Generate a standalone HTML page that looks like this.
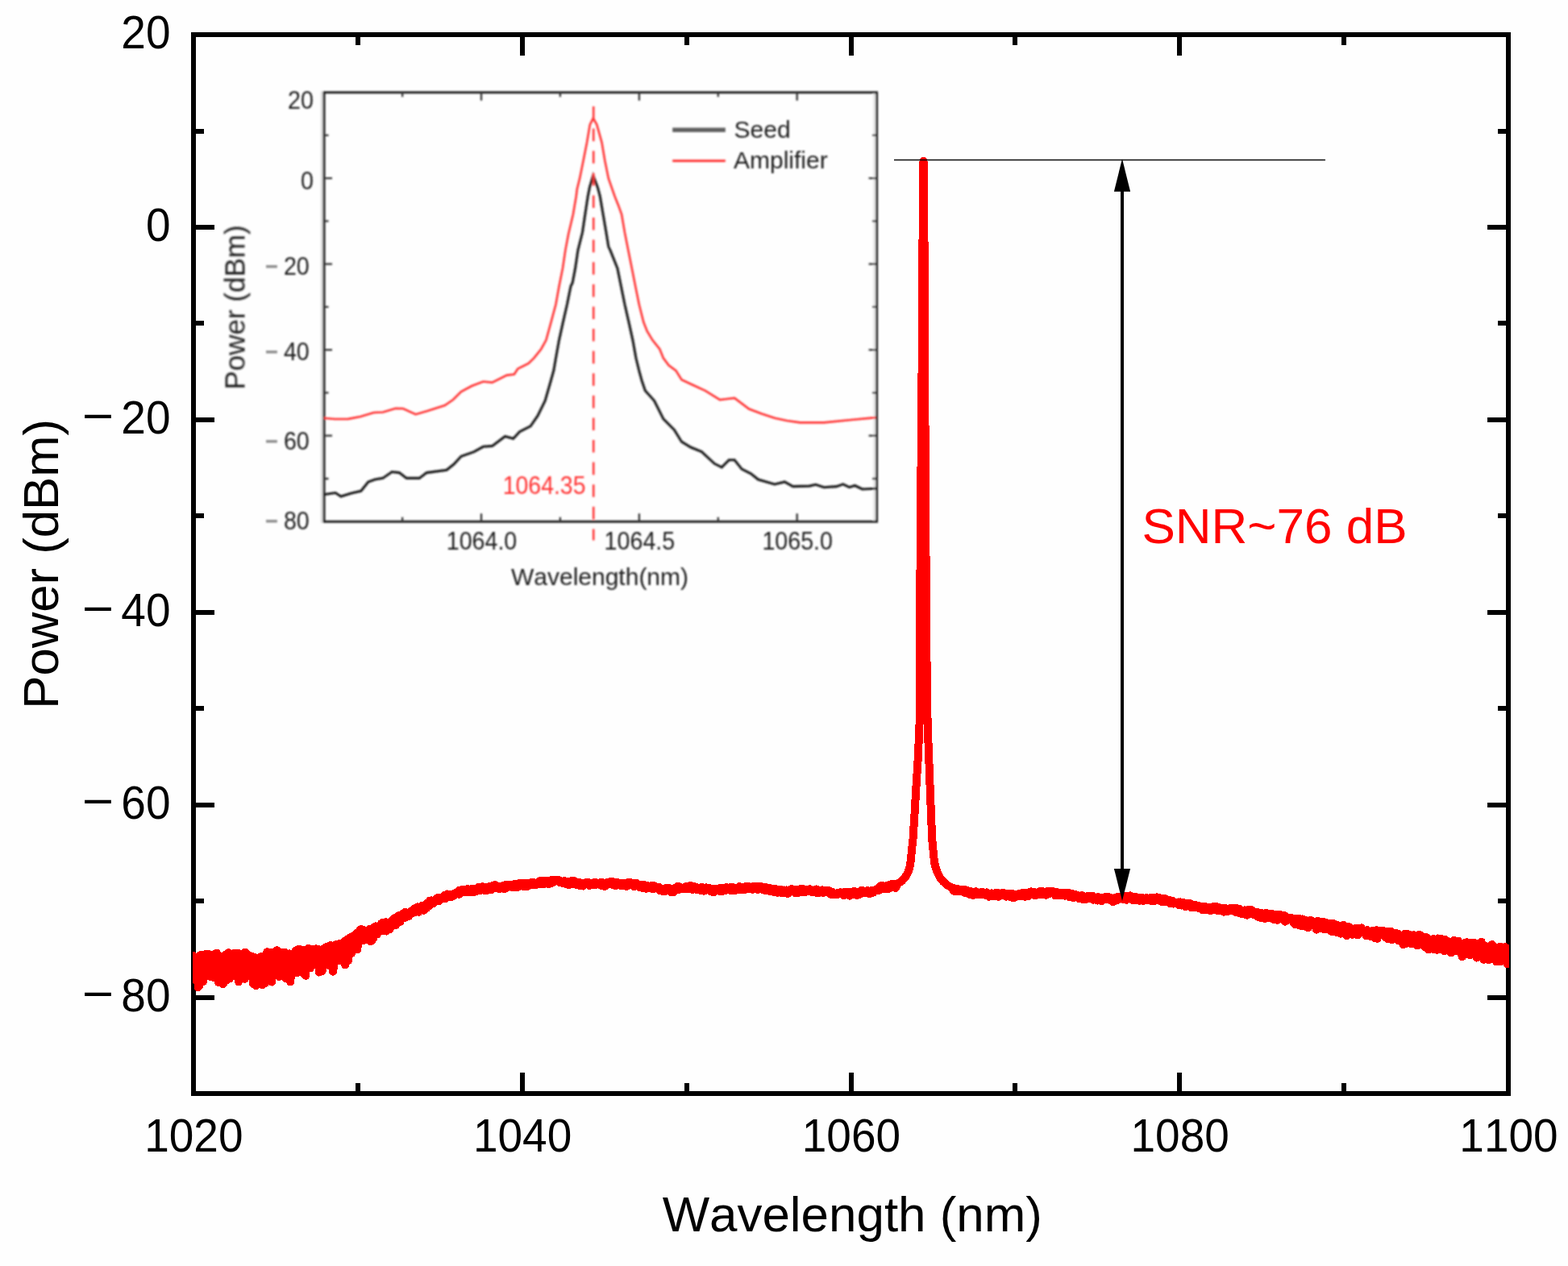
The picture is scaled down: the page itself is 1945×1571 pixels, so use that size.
<!DOCTYPE html>
<html lang="en"><head><meta charset="utf-8"><title>Optical spectrum</title>
<style>html,body{margin:0;padding:0;background:#fefefe;overflow:hidden;}svg{display:block}text{font-family:"Liberation Sans",Arial,Helvetica,sans-serif;font-kerning:none;}</style>
</head><body>
<svg width="1945" height="1571" viewBox="0 0 1945 1571">
<defs>
<clipPath id="plotclip"><rect x="239.1" y="43.0" width="1632.8" height="1314.0"/></clipPath>
<filter id="soft" x="-5%" y="-5%" width="110%" height="110%"><feGaussianBlur stdDeviation="0.8"/></filter>
</defs>
<rect width="1945" height="1571" fill="#fefefe"/>
<g fill="#000" stroke="none" shape-rendering="crispEdges">
<path d="M237 40H1874V46H237Z M237 1354H1874V1360H237Z M237 40H243V1360H237Z M1868 40H1874V1360H1868Z"/>
<path d="M441 1344h6V1357h-6Z M441 43h6V56h-6Z M645 1331h6V1357h-6Z M645 43h6V69h-6Z M849 1344h6V1357h-6Z M849 43h6V56h-6Z M1053 1331h6V1357h-6Z M1053 43h6V69h-6Z M1256 1344h6V1357h-6Z M1256 43h6V56h-6Z M1460 1331h6V1357h-6Z M1460 43h6V69h-6Z M1664 1344h6V1357h-6Z M1664 43h6V56h-6Z M240 160H253v6H240Z M1858 160H1871v6H1858Z M240 279H266v6H240Z M1845 279H1871v6H1845Z M240 398H253v6H240Z M1858 398H1871v6H1858Z M240 518H266v6H240Z M1845 518H1871v6H1845Z M240 637H253v6H240Z M1858 637H1871v6H1858Z M240 757H266v6H240Z M1845 757H1871v6H1845Z M240 876H253v6H240Z M1858 876H1871v6H1858Z M240 996H266v6H240Z M1845 996H1871v6H1845Z M240 1115H253v6H240Z M1858 1115H1871v6H1858Z M240 1235H266v6H240Z M1845 1235H1871v6H1845Z"/>
</g>
<g clip-path="url(#plotclip)"><path d="M236.0 1198.4 236.6 1216.3 237.2 1207.5 237.8 1185.8 238.4 1187.5 239.0 1215.5 239.6 1185.6 240.2 1212.4 240.8 1211.1 241.4 1194.2 242.0 1189.4 242.6 1188.7 243.2 1188.0 243.8 1192.5 244.4 1194.5 245.0 1196.4 245.6 1225.0 246.2 1209.3 246.8 1199.2 247.4 1223.5 248.0 1186.0 248.6 1185.2 249.2 1197.8 249.8 1184.8 250.4 1185.3 251.0 1194.7 251.6 1193.2 252.2 1217.9 252.8 1199.6 253.4 1194.1 254.0 1192.9 254.6 1185.9 255.2 1183.8 255.8 1184.6 256.4 1200.3 257.0 1184.6 257.6 1187.7 258.2 1183.6 258.8 1208.6 259.4 1184.3 260.0 1185.8 260.6 1212.0 261.2 1192.5 261.8 1210.2 262.4 1198.8 263.0 1204.6 263.6 1185.9 264.2 1195.5 264.8 1194.2 265.4 1212.9 266.0 1188.8 266.6 1196.0 267.2 1183.3 267.8 1187.2 268.4 1185.3 269.0 1182.8 269.6 1206.3 270.2 1187.2 270.8 1219.0 271.4 1195.6 272.0 1196.9 272.6 1199.0 273.2 1201.5 273.8 1186.6 274.4 1192.5 275.0 1188.1 275.6 1191.5 276.2 1186.5 276.8 1221.2 277.4 1187.3 278.0 1201.6 278.6 1188.4 279.2 1213.4 279.8 1200.0 280.4 1184.5 281.0 1209.5 281.6 1216.1 282.2 1212.4 282.8 1192.7 283.4 1182.2 284.0 1182.9 284.6 1214.6 285.2 1193.1 285.8 1184.1 286.4 1212.6 287.0 1198.0 287.6 1194.6 288.2 1187.7 288.8 1188.5 289.4 1184.5 290.0 1182.8 290.6 1211.3 291.2 1190.0 291.8 1193.1 292.4 1186.1 293.0 1203.4 293.6 1182.9 294.2 1187.1 294.8 1182.6 295.4 1182.9 296.0 1218.3 296.6 1197.8 297.2 1188.5 297.8 1191.9 298.4 1211.2 299.0 1186.3 299.6 1194.7 300.2 1199.2 300.8 1186.2 301.4 1191.0 302.0 1203.1 302.6 1212.8 303.2 1181.9 303.8 1214.8 304.4 1181.6 305.0 1203.0 305.6 1207.3 306.2 1184.0 306.8 1189.9 307.4 1209.6 308.0 1185.0 308.6 1199.4 309.2 1209.1 309.8 1194.8 310.4 1205.2 311.0 1187.3 311.6 1187.0 312.2 1190.1 312.8 1186.8 313.4 1189.7 314.0 1220.8 314.6 1197.3 315.2 1189.4 315.8 1188.0 316.4 1221.1 317.0 1192.2 317.6 1223.1 318.2 1194.1 318.8 1194.0 319.4 1215.5 320.0 1204.9 320.6 1196.4 321.2 1190.9 321.8 1215.2 322.4 1191.7 323.0 1220.0 323.6 1187.1 324.2 1193.4 324.8 1196.4 325.4 1222.4 326.0 1187.9 326.6 1210.1 327.2 1201.4 327.8 1202.9 328.4 1197.4 329.0 1220.0 329.6 1185.3 330.2 1186.7 330.8 1182.4 331.4 1181.2 332.0 1182.5 332.6 1214.5 333.2 1208.9 333.8 1181.8 334.4 1194.9 335.0 1189.8 335.6 1194.8 336.2 1198.1 336.8 1185.2 337.4 1218.6 338.0 1189.8 338.6 1196.5 339.2 1196.6 339.8 1182.6 340.4 1181.2 341.0 1186.0 341.6 1201.3 342.2 1204.0 342.8 1198.3 343.4 1179.3 344.0 1210.4 344.6 1202.8 345.2 1208.3 345.8 1189.5 346.4 1211.9 347.0 1181.4 347.6 1181.7 348.2 1181.8 348.8 1183.6 349.4 1183.5 350.0 1182.6 350.6 1192.3 351.2 1181.6 351.8 1193.3 352.4 1182.5 353.0 1197.8 353.6 1182.0 354.2 1184.8 354.8 1214.5 355.4 1191.7 356.0 1205.8 356.6 1197.2 357.2 1195.1 357.8 1183.6 358.4 1194.0 359.0 1183.3 359.6 1206.8 360.2 1218.4 360.8 1210.9 361.4 1184.5 362.0 1188.0 362.6 1187.4 363.2 1184.1 363.8 1196.6 364.4 1205.1 365.0 1184.0 365.6 1207.6 366.2 1202.6 366.8 1179.3 367.4 1199.9 368.0 1207.4 368.6 1179.3 369.2 1189.3 369.8 1192.1 370.4 1190.4 371.0 1177.5 371.6 1192.5 372.2 1190.8 372.8 1201.9 373.4 1200.5 374.0 1180.1 374.6 1195.8 375.2 1205.5 375.8 1207.7 376.4 1179.2 377.0 1178.9 377.6 1193.6 378.2 1180.0 378.8 1189.0 379.4 1210.8 380.0 1181.7 380.6 1178.7 381.2 1183.3 381.8 1191.4 382.4 1177.0 383.0 1181.4 383.6 1177.6 384.2 1192.1 384.8 1201.4 385.4 1181.2 386.0 1180.9 386.6 1186.1 387.2 1178.2 387.8 1178.8 388.4 1180.5 389.0 1183.9 389.6 1177.8 390.2 1196.7 390.8 1188.2 391.4 1179.9 392.0 1177.3 392.6 1196.5 393.2 1177.5 393.8 1177.7 394.4 1178.1 395.0 1178.3 395.6 1206.6 396.2 1181.0 396.8 1182.0 397.4 1202.7 398.0 1191.8 398.6 1180.7 399.2 1184.9 399.8 1204.9 400.4 1182.3 401.0 1193.7 401.6 1177.2 402.2 1193.3 402.8 1195.4 403.4 1197.7 404.0 1189.4 404.6 1178.7 405.2 1174.7 405.8 1182.3 406.4 1192.1 407.0 1174.4 407.6 1175.0 408.2 1181.4 408.8 1190.3 409.4 1198.8 410.0 1172.8 410.6 1173.3 411.2 1192.8 411.8 1185.2 412.4 1188.8 413.0 1205.6 413.6 1201.5 414.2 1195.2 414.8 1191.2 415.4 1176.3 416.0 1184.2 416.6 1172.3 417.2 1189.2 417.8 1188.8 418.4 1186.8 419.0 1176.4 419.6 1174.8 420.2 1175.8 420.8 1170.9 421.4 1192.3 422.0 1178.1 422.6 1173.1 423.2 1176.8 423.8 1183.1 424.4 1171.2 425.0 1187.6 425.6 1192.6 426.2 1171.3 426.8 1168.2 427.4 1184.4 428.0 1197.3 428.6 1168.2 429.2 1181.4 429.8 1186.1 430.4 1190.6 431.0 1166.1 431.6 1165.3 432.2 1192.0 432.8 1164.1 433.4 1163.8 434.0 1170.7 434.6 1166.8 435.2 1176.0 435.8 1162.4 436.4 1182.8 437.0 1162.4 437.6 1175.5 438.2 1161.6 438.8 1168.0 439.4 1160.9 440.0 1163.7 440.6 1163.0 441.2 1172.2 441.8 1164.3 442.4 1157.8 443.0 1178.4 443.6 1173.6 444.2 1173.5 444.8 1156.6 445.4 1158.4 446.0 1155.4 446.6 1154.0 447.2 1153.2 447.8 1159.0 448.4 1153.3 449.0 1153.7 449.6 1167.5 450.2 1158.3 450.8 1153.9 451.4 1162.3 452.0 1154.9 452.6 1159.2 453.2 1155.3 453.8 1159.1 454.4 1161.4 455.0 1159.5 455.7 1156.9 456.3 1164.8 456.9 1166.6 457.5 1153.6 458.1 1153.1 458.7 1152.7 459.3 1168.2 459.9 1167.0 460.5 1153.5 461.1 1167.4 461.7 1153.0 462.3 1156.6 462.9 1156.0 463.5 1164.1 464.1 1150.5 464.7 1152.1 465.3 1155.9 465.9 1149.3 466.5 1150.1 467.1 1152.3 467.7 1159.4 468.3 1156.3 468.9 1157.1 469.5 1155.2 470.1 1153.9 470.7 1156.3 471.3 1152.9 471.9 1153.6 472.5 1147.2 473.1 1145.9 473.7 1153.0 474.3 1145.1 474.9 1155.3 475.5 1149.1 476.1 1145.6 476.7 1155.1 477.3 1144.4 477.9 1148.0 478.5 1144.3 479.1 1155.6 479.7 1148.7 480.3 1152.0 480.9 1144.8 481.5 1151.3 482.1 1149.4 482.7 1148.2 483.3 1153.2 483.9 1145.1 484.5 1144.6 485.1 1147.8 485.7 1149.6 486.3 1142.6 486.9 1146.1 487.5 1140.9 488.1 1143.8 488.7 1146.5 489.3 1139.4 489.9 1145.1 490.5 1138.6 491.1 1147.8 491.7 1140.4 492.3 1139.3 492.9 1142.5 493.5 1139.7 494.1 1141.9 494.7 1136.0 495.3 1139.4 495.9 1139.2 496.5 1143.9 497.1 1135.3 497.7 1137.5 498.3 1138.9 498.9 1137.6 499.5 1133.8 500.1 1137.0 500.7 1133.3 501.3 1132.6 501.9 1138.9 502.5 1131.7 503.1 1133.2 503.7 1136.2 504.3 1135.6 504.9 1133.9 505.5 1136.9 506.1 1133.1 506.7 1134.6 507.3 1136.8 507.9 1134.7 508.5 1134.0 509.1 1131.3 509.7 1132.3 510.3 1130.4 510.9 1133.5 511.5 1129.6 512.1 1130.0 512.7 1132.6 513.3 1129.5 513.9 1127.8 514.5 1132.1 515.1 1127.2 515.7 1131.6 516.3 1130.7 516.9 1127.2 517.5 1129.8 518.1 1125.3 518.7 1127.0 519.3 1131.7 519.9 1128.4 520.5 1128.0 521.1 1128.7 521.7 1128.5 522.3 1127.2 522.9 1125.5 523.5 1124.0 524.1 1124.3 524.7 1124.0 525.3 1124.6 525.9 1129.8 526.5 1123.3 527.1 1123.7 527.7 1122.8 528.3 1124.1 528.9 1127.3 529.5 1126.2 530.1 1121.3 530.7 1120.1 531.3 1124.6 531.9 1120.7 532.5 1121.8 533.1 1117.7 533.7 1122.9 534.3 1118.4 534.9 1119.4 535.5 1117.4 536.1 1118.5 536.7 1121.4 537.3 1121.1 537.9 1118.0 538.5 1119.9 539.1 1117.3 539.7 1116.5 540.3 1117.4 540.9 1115.3 541.5 1115.7 542.1 1118.0 542.7 1118.3 543.3 1114.1 543.9 1117.5 544.5 1118.0 545.1 1115.3 545.7 1113.5 546.3 1116.5 546.9 1113.9 547.5 1115.9 548.1 1114.1 548.7 1115.3 549.3 1112.8 549.9 1113.5 550.5 1113.3 551.1 1113.4 551.7 1110.8 552.3 1115.0 552.9 1110.4 553.5 1110.3 554.1 1110.0 554.7 1109.4 555.3 1110.9 555.9 1113.0 556.5 1112.6 557.1 1109.9 557.7 1109.6 558.3 1110.2 558.9 1112.6 559.5 1110.6 560.1 1113.3 560.7 1111.3 561.3 1111.0 561.9 1112.0 562.5 1111.7 563.1 1109.3 563.7 1108.7 564.3 1109.2 564.9 1109.2 565.5 1107.5 566.1 1108.4 566.7 1109.2 567.3 1106.6 567.9 1106.3 568.5 1106.1 569.1 1106.1 569.7 1109.7 570.3 1104.6 570.9 1104.7 571.5 1104.5 572.1 1105.8 572.7 1104.1 573.3 1105.6 573.9 1104.2 574.5 1104.4 575.1 1107.0 575.7 1103.7 576.3 1105.5 576.9 1104.3 577.5 1104.4 578.1 1106.6 578.7 1103.4 579.3 1107.5 579.9 1107.4 580.5 1106.0 581.1 1103.3 581.7 1105.8 582.3 1105.3 582.9 1106.3 583.5 1103.5 584.1 1107.5 584.7 1107.1 585.3 1103.2 585.9 1103.8 586.5 1102.8 587.1 1106.3 587.7 1106.7 588.3 1107.0 588.9 1104.3 589.5 1104.4 590.1 1104.3 590.7 1103.4 591.3 1105.7 591.9 1103.2 592.5 1101.6 593.1 1102.4 593.7 1100.7 594.3 1103.8 594.9 1103.8 595.5 1102.3 596.1 1104.8 596.7 1104.0 597.3 1101.5 597.9 1100.4 598.5 1100.4 599.1 1100.5 599.7 1101.0 600.3 1101.8 600.9 1105.1 601.5 1101.5 602.1 1105.3 602.7 1104.0 603.3 1105.1 603.9 1102.4 604.5 1100.8 605.1 1104.1 605.7 1100.8 606.3 1100.2 606.9 1103.4 607.5 1102.5 608.1 1100.0 608.7 1100.1 609.3 1104.0 609.9 1099.9 610.5 1102.1 611.1 1099.1 611.7 1102.4 612.3 1098.6 612.9 1100.2 613.5 1098.2 614.1 1100.3 614.7 1102.3 615.3 1098.5 615.9 1099.2 616.5 1102.1 617.1 1101.2 617.7 1099.8 618.3 1101.6 618.9 1100.7 619.5 1103.3 620.1 1099.9 620.7 1102.5 621.3 1101.7 621.9 1102.4 622.5 1100.2 623.1 1102.3 623.7 1102.0 624.3 1100.0 624.9 1098.6 625.5 1103.3 626.1 1101.2 626.7 1098.2 627.3 1100.8 627.9 1098.2 628.5 1099.1 629.1 1101.8 629.7 1099.2 630.3 1098.6 630.9 1098.9 631.5 1098.2 632.1 1098.6 632.7 1098.6 633.3 1098.1 633.9 1097.6 634.5 1099.0 635.1 1097.6 635.7 1100.3 636.3 1101.5 636.9 1097.5 637.5 1099.0 638.1 1098.6 638.7 1096.8 639.3 1096.9 639.9 1101.1 640.5 1098.4 641.1 1100.4 641.7 1096.7 642.3 1098.9 642.9 1100.6 643.5 1100.4 644.1 1096.1 644.7 1098.0 645.3 1097.0 645.9 1099.2 646.5 1095.7 647.1 1096.2 647.7 1099.2 648.3 1097.1 648.9 1097.0 649.5 1100.4 650.1 1096.5 650.7 1095.8 651.3 1097.1 651.9 1096.2 652.5 1096.0 653.1 1098.0 653.7 1100.4 654.3 1097.9 654.9 1098.2 655.5 1096.5 656.1 1097.6 656.7 1098.5 657.3 1097.3 657.9 1098.5 658.5 1096.8 659.1 1095.0 659.7 1096.7 660.3 1096.2 660.9 1094.9 661.5 1097.1 662.1 1098.5 662.7 1095.3 663.3 1097.2 663.9 1098.4 664.5 1096.6 665.1 1096.0 665.7 1096.3 666.3 1096.9 666.9 1097.4 667.5 1096.3 668.1 1094.0 668.7 1097.1 669.3 1097.4 669.9 1093.1 670.5 1093.4 671.1 1093.1 671.7 1096.6 672.3 1097.1 672.9 1093.1 673.5 1094.0 674.1 1093.4 674.7 1094.4 675.3 1096.9 675.9 1092.6 676.5 1092.7 677.1 1093.9 677.7 1094.0 678.3 1095.3 678.9 1093.8 679.5 1092.9 680.1 1093.8 680.7 1097.3 681.3 1095.8 681.9 1092.8 682.5 1095.7 683.1 1092.9 683.7 1095.1 684.3 1091.8 684.9 1095.6 685.5 1092.3 686.1 1093.6 686.7 1094.8 687.3 1094.1 687.9 1092.7 688.5 1092.6 689.1 1092.8 689.7 1092.0 690.3 1092.2 690.9 1091.8 691.5 1093.0 692.1 1092.7 692.7 1094.0 693.3 1092.9 693.9 1092.4 694.5 1093.4 695.1 1095.5 695.7 1093.2 696.3 1093.7 696.9 1095.4 697.5 1093.6 698.1 1096.1 698.7 1096.4 699.3 1093.4 699.9 1095.6 700.5 1093.5 701.1 1093.3 701.7 1094.4 702.3 1095.3 702.9 1097.4 703.5 1093.8 704.1 1096.4 704.7 1095.4 705.3 1094.2 705.9 1098.2 706.5 1096.5 707.1 1094.0 707.7 1097.4 708.3 1093.5 708.9 1093.3 709.5 1093.8 710.1 1096.9 710.7 1092.9 711.3 1096.8 711.9 1095.1 712.5 1093.1 713.1 1095.0 713.7 1094.6 714.3 1095.2 714.9 1096.4 715.5 1096.3 716.1 1098.4 716.7 1094.5 717.3 1097.6 717.9 1095.7 718.5 1097.7 719.1 1098.5 719.7 1099.2 720.3 1095.5 720.9 1096.4 721.5 1099.3 722.1 1099.4 722.7 1096.5 723.3 1099.6 723.9 1096.6 724.5 1096.4 725.1 1098.1 725.7 1096.4 726.3 1096.1 726.9 1095.6 727.5 1095.6 728.1 1094.6 728.7 1094.6 729.3 1097.7 729.9 1097.0 730.5 1097.9 731.1 1098.9 731.7 1096.4 732.3 1096.4 732.9 1096.4 733.5 1096.2 734.1 1098.1 734.7 1095.9 735.3 1095.6 735.9 1097.0 736.5 1095.2 737.1 1095.1 737.7 1097.7 738.3 1098.2 738.9 1096.0 739.5 1097.5 740.1 1095.3 740.7 1096.4 741.3 1097.2 741.9 1095.9 742.5 1096.2 743.1 1097.4 743.7 1097.3 744.3 1095.4 744.9 1097.7 745.5 1095.1 746.1 1099.2 746.7 1095.3 747.3 1095.5 747.9 1095.4 748.5 1099.6 749.1 1096.0 749.7 1097.5 750.3 1099.9 750.9 1099.6 751.5 1095.5 752.1 1097.1 752.7 1097.3 753.3 1097.7 753.9 1095.8 754.5 1095.7 755.1 1094.7 755.7 1094.6 756.3 1096.2 756.9 1094.3 757.5 1094.4 758.1 1094.7 758.7 1094.0 759.3 1094.0 759.9 1098.1 760.5 1095.6 761.1 1095.0 761.7 1097.4 762.3 1094.8 762.9 1095.4 763.5 1099.0 764.1 1098.6 764.7 1097.1 765.3 1095.1 765.9 1095.9 766.5 1095.3 767.1 1095.8 767.7 1095.5 768.3 1095.7 768.9 1097.7 769.5 1095.6 770.1 1095.7 770.7 1099.2 771.3 1096.3 771.9 1096.4 772.5 1095.7 773.1 1098.9 773.7 1098.4 774.3 1097.9 774.9 1098.4 775.5 1096.5 776.1 1096.8 776.7 1098.1 777.3 1100.0 777.9 1098.8 778.5 1097.6 779.1 1096.7 779.7 1094.8 780.3 1098.4 780.9 1094.6 781.5 1094.7 782.1 1097.1 782.7 1098.0 783.3 1098.2 783.9 1096.8 784.5 1096.1 785.1 1096.0 785.7 1099.5 786.3 1100.1 786.9 1096.2 787.5 1099.0 788.1 1096.5 788.7 1096.2 789.3 1097.3 789.9 1096.2 790.5 1097.9 791.1 1097.4 791.7 1099.8 792.3 1098.8 792.9 1100.8 793.5 1101.0 794.1 1098.1 794.7 1098.1 795.3 1101.6 795.9 1099.2 796.5 1097.8 797.1 1097.8 797.7 1102.3 798.3 1099.9 798.9 1098.0 799.5 1099.7 800.1 1099.8 800.7 1099.7 801.3 1102.6 801.9 1102.7 802.5 1098.9 803.1 1099.0 803.7 1099.9 804.3 1102.2 804.9 1101.0 805.5 1101.7 806.1 1100.9 806.7 1099.4 807.3 1102.3 807.9 1099.0 808.5 1101.6 809.1 1099.4 809.7 1100.5 810.3 1103.4 810.9 1100.9 811.5 1099.4 812.1 1100.8 812.7 1102.2 813.3 1100.1 813.9 1100.9 814.5 1100.5 815.1 1102.4 815.7 1101.8 816.3 1102.4 816.9 1101.6 817.5 1103.3 818.1 1101.3 818.7 1105.0 819.3 1105.5 819.9 1103.1 820.5 1103.2 821.1 1105.6 821.7 1102.9 822.3 1105.6 822.9 1103.0 823.5 1105.0 824.1 1103.1 824.7 1104.2 825.3 1106.0 825.9 1102.1 826.5 1105.3 827.1 1103.9 827.7 1103.1 828.3 1102.9 828.9 1102.0 829.5 1102.4 830.1 1104.1 830.7 1102.2 831.3 1104.7 831.9 1106.8 832.5 1107.1 833.1 1106.8 833.7 1106.4 834.3 1103.5 834.9 1107.3 835.5 1103.2 836.1 1106.2 836.7 1106.0 837.3 1104.1 837.9 1103.1 838.5 1101.3 839.1 1102.2 839.7 1100.8 840.3 1100.0 840.9 1099.9 841.5 1102.9 842.1 1103.8 842.7 1100.3 843.3 1100.4 843.9 1101.4 844.5 1101.3 845.1 1101.7 845.7 1103.4 846.3 1102.7 846.9 1102.6 847.5 1101.6 848.1 1103.3 848.7 1101.3 849.3 1101.4 849.9 1101.3 850.5 1103.4 851.1 1099.8 851.7 1101.8 852.3 1099.8 852.9 1102.8 853.5 1100.1 854.1 1100.6 854.7 1102.6 855.3 1101.4 855.9 1099.0 856.5 1099.2 857.1 1103.5 857.7 1099.2 858.3 1100.1 858.9 1103.9 859.5 1099.9 860.1 1100.4 860.7 1100.7 861.3 1100.5 861.9 1101.9 862.5 1102.7 863.1 1101.5 863.7 1101.0 864.3 1104.3 864.9 1104.4 865.5 1103.2 866.1 1101.6 866.7 1103.2 867.3 1103.6 867.9 1102.5 868.5 1104.7 869.1 1102.0 869.7 1102.4 870.3 1100.9 870.9 1102.6 871.5 1103.8 872.1 1103.7 872.7 1101.6 873.3 1105.7 873.9 1104.1 874.5 1102.6 875.1 1102.5 875.7 1104.3 876.3 1101.4 876.9 1103.2 877.5 1103.6 878.1 1102.5 878.7 1104.5 879.3 1102.4 879.9 1102.6 880.5 1102.2 881.1 1105.8 881.7 1103.0 882.3 1105.1 882.9 1103.9 883.5 1107.0 884.1 1107.2 884.7 1103.0 885.3 1107.4 885.9 1105.0 886.5 1102.8 887.1 1104.1 887.7 1102.5 888.3 1104.2 888.9 1102.5 889.5 1103.0 890.1 1102.6 890.7 1103.7 891.3 1104.9 891.9 1105.6 892.5 1102.4 893.1 1103.6 893.7 1101.8 894.3 1102.9 895.0 1106.2 895.6 1102.1 896.2 1105.6 896.8 1104.2 897.4 1102.4 898.0 1104.7 898.6 1102.2 899.2 1105.2 899.8 1101.4 900.4 1101.4 901.0 1104.1 901.6 1102.5 902.2 1101.4 902.8 1102.8 903.4 1102.0 904.0 1103.1 904.6 1104.2 905.2 1104.8 905.8 1101.1 906.4 1103.0 907.0 1105.2 907.6 1102.1 908.2 1103.8 908.8 1101.0 909.4 1104.7 910.0 1103.2 910.6 1105.2 911.2 1104.6 911.8 1105.2 912.4 1101.6 913.0 1104.3 913.6 1101.8 914.2 1102.0 914.8 1102.0 915.4 1103.0 916.0 1102.9 916.6 1104.4 917.2 1100.1 917.8 1100.4 918.4 1101.1 919.0 1103.7 919.6 1102.5 920.2 1102.5 920.8 1104.0 921.4 1103.4 922.0 1101.7 922.6 1100.9 923.2 1101.9 923.8 1104.0 924.4 1102.2 925.0 1100.0 925.6 1101.1 926.2 1100.7 926.8 1101.5 927.4 1101.4 928.0 1103.5 928.6 1100.1 929.2 1100.4 929.8 1101.5 930.4 1103.2 931.0 1102.2 931.6 1101.0 932.2 1103.0 932.8 1101.2 933.4 1103.9 934.0 1100.2 934.6 1099.8 935.2 1103.0 935.8 1100.4 936.4 1103.3 937.0 1102.0 937.6 1101.5 938.2 1100.0 938.8 1103.1 939.4 1099.9 940.0 1104.1 940.6 1103.4 941.2 1100.3 941.8 1099.8 942.4 1103.4 943.0 1101.1 943.6 1099.8 944.2 1101.3 944.8 1100.4 945.4 1101.2 946.0 1102.5 946.6 1104.2 947.2 1103.6 947.8 1100.7 948.4 1102.0 949.0 1102.3 949.6 1105.4 950.2 1101.2 950.8 1102.9 951.4 1105.3 952.0 1102.6 952.6 1102.1 953.2 1103.5 953.8 1102.5 954.4 1105.9 955.0 1102.2 955.6 1102.8 956.2 1102.7 956.8 1105.4 957.4 1103.4 958.0 1106.5 958.6 1106.4 959.2 1106.7 959.8 1103.2 960.4 1102.6 961.0 1103.8 961.6 1107.2 962.2 1106.0 962.8 1103.2 963.4 1105.9 964.0 1107.4 964.6 1107.8 965.2 1106.3 965.8 1107.3 966.4 1107.2 967.0 1104.7 967.6 1103.9 968.2 1106.6 968.8 1104.1 969.4 1105.0 970.0 1108.5 970.6 1105.9 971.2 1105.7 971.8 1108.1 972.4 1104.4 973.0 1108.1 973.6 1107.5 974.2 1104.7 974.8 1104.8 975.4 1104.5 976.0 1108.7 976.6 1105.4 977.2 1105.1 977.8 1108.9 978.4 1107.0 979.0 1107.0 979.6 1107.0 980.2 1103.8 980.8 1103.5 981.4 1104.8 982.0 1103.2 982.6 1104.7 983.2 1106.1 983.8 1105.8 984.4 1105.8 985.0 1103.8 985.6 1104.5 986.2 1108.1 986.8 1104.6 987.4 1106.3 988.0 1104.5 988.6 1108.5 989.2 1104.4 989.8 1105.1 990.4 1105.4 991.0 1106.1 991.6 1107.3 992.2 1105.8 992.8 1103.8 993.4 1102.9 994.0 1105.6 994.6 1107.3 995.2 1102.9 995.8 1105.9 996.4 1103.1 997.0 1104.1 997.6 1104.5 998.2 1105.0 998.8 1107.4 999.4 1105.6 1000.0 1104.1 1000.6 1105.7 1001.2 1104.3 1001.8 1103.9 1002.4 1103.6 1003.0 1104.2 1003.6 1103.3 1004.2 1103.3 1004.8 1103.2 1005.4 1104.5 1006.0 1104.0 1006.6 1107.0 1007.2 1107.2 1007.8 1104.5 1008.4 1105.8 1009.0 1107.5 1009.6 1104.4 1010.2 1105.2 1010.8 1104.5 1011.4 1105.5 1012.0 1107.5 1012.6 1103.5 1013.2 1107.9 1013.8 1106.3 1014.4 1107.4 1015.0 1106.8 1015.6 1108.4 1016.2 1105.6 1016.8 1107.5 1017.4 1105.2 1018.0 1106.1 1018.6 1106.9 1019.2 1104.7 1019.8 1104.4 1020.4 1107.7 1021.0 1108.0 1021.6 1107.3 1022.2 1105.7 1022.8 1107.3 1023.4 1104.8 1024.0 1107.1 1024.6 1106.4 1025.2 1106.5 1025.8 1105.6 1026.4 1104.8 1027.0 1107.3 1027.6 1106.1 1028.2 1107.9 1028.8 1106.1 1029.4 1105.4 1030.0 1107.4 1030.6 1108.1 1031.2 1110.2 1031.8 1110.2 1032.4 1106.6 1033.0 1110.1 1033.6 1107.8 1034.2 1110.2 1034.8 1108.7 1035.4 1108.5 1036.0 1109.2 1036.6 1109.3 1037.2 1110.1 1037.8 1109.7 1038.4 1109.8 1039.0 1108.2 1039.6 1109.7 1040.2 1108.0 1040.8 1109.3 1041.4 1108.6 1042.0 1109.2 1042.6 1107.3 1043.2 1109.1 1043.8 1108.0 1044.4 1108.7 1045.0 1107.6 1045.6 1109.9 1046.2 1111.2 1046.8 1107.9 1047.4 1106.8 1048.0 1108.8 1048.6 1106.6 1049.2 1110.4 1049.8 1106.7 1050.4 1107.7 1051.0 1108.5 1051.6 1107.2 1052.2 1108.0 1052.8 1107.8 1053.4 1109.9 1054.0 1111.7 1054.6 1107.9 1055.2 1110.1 1055.8 1106.7 1056.4 1108.3 1057.0 1107.3 1057.6 1106.4 1058.2 1109.1 1058.8 1108.5 1059.4 1105.7 1060.0 1106.3 1060.6 1109.2 1061.2 1110.5 1061.8 1108.3 1062.4 1110.0 1063.0 1110.9 1063.6 1109.3 1064.2 1108.8 1064.8 1106.7 1065.4 1107.1 1066.0 1108.1 1066.6 1109.7 1067.2 1106.0 1067.8 1106.1 1068.4 1104.8 1069.0 1107.5 1069.6 1106.1 1070.2 1108.1 1070.8 1105.2 1071.4 1107.3 1072.0 1107.5 1072.6 1106.5 1073.2 1105.5 1073.8 1106.4 1074.4 1108.3 1075.0 1105.5 1075.6 1105.1 1076.2 1106.5 1076.8 1105.4 1077.4 1108.4 1078.0 1108.5 1078.6 1109.4 1079.2 1108.8 1079.8 1107.6 1080.4 1105.3 1081.0 1108.4 1081.6 1107.6 1082.2 1107.5 1082.8 1107.0 1083.4 1107.7 1084.0 1104.6 1084.6 1106.4 1085.2 1105.3 1085.8 1104.3 1086.4 1104.1 1087.0 1103.3 1087.6 1104.4 1088.2 1103.4 1088.8 1103.2 1089.4 1105.1 1090.0 1103.4 1090.6 1102.8 1091.2 1104.3 1091.8 1099.6 1092.4 1100.6 1093.0 1098.8 1093.6 1099.8 1094.2 1103.3 1094.8 1099.0 1095.4 1102.3 1096.0 1103.2 1096.6 1101.2 1097.2 1103.0 1097.8 1100.9 1098.4 1100.3 1099.0 1100.8 1099.6 1099.2 1100.2 1099.3 1100.8 1099.1 1101.4 1103.0 1102.0 1098.9 1102.6 1098.3 1103.2 1102.1 1103.8 1097.6 1104.4 1101.9 1105.0 1100.8 1105.6 1099.3 1106.2 1097.9 1106.8 1096.8 1107.4 1096.5 1108.0 1096.5 1108.6 1097.5 1109.2 1097.9 1109.8 1101.2 1110.4 1098.9 1111.0 1101.9 1111.6 1100.1 1112.2 1097.2 1112.8 1098.7 1113.4 1096.8 1114.0 1096.2 1119.0 1093.0 1123.0 1088.5 1126.0 1083.0 1128.0 1078.0 1129.5 1070.0 1131.0 1055.0 1132.6 1040.0 1134.5 1010.0 1136.3 979.0 1138.8 940.0 1140.6 897.0 1140.9 830.0 1141.1 760.0 1141.8 670.0 1142.5 580.0 1143.3 490.0 1144.0 400.0 1144.5 300.0 1144.9 205.0 1145.5 199.9 1146.1 205.0 1146.5 300.0 1146.8 400.0 1147.3 490.0 1147.8 580.0 1148.4 670.0 1148.9 760.0 1149.6 830.0 1150.6 897.0 1152.2 940.0 1153.7 979.0 1155.0 1010.0 1156.1 1040.0 1157.5 1055.0 1159.0 1070.0 1161.0 1078.0 1163.0 1083.0 1166.0 1089.0 1170.0 1094.0 1176.0 1099.0 1180.0 1100.9 1180.6 1102.4 1181.2 1101.5 1181.8 1103.1 1182.4 1102.0 1183.0 1105.6 1183.6 1102.7 1184.2 1104.7 1184.8 1104.7 1185.4 1103.4 1186.0 1103.0 1186.6 1106.2 1187.2 1102.7 1187.8 1103.4 1188.4 1103.8 1189.0 1105.1 1189.6 1104.4 1190.2 1103.8 1190.8 1105.5 1191.4 1106.3 1192.0 1106.2 1192.6 1105.1 1193.2 1104.4 1193.8 1103.7 1194.4 1105.3 1195.0 1105.9 1195.6 1105.1 1196.2 1107.8 1196.8 1104.1 1197.4 1106.9 1198.0 1106.3 1198.6 1107.4 1199.2 1107.8 1199.8 1104.9 1200.4 1108.6 1201.0 1106.3 1201.6 1107.9 1202.2 1109.8 1202.8 1107.8 1203.4 1107.9 1204.0 1106.1 1204.6 1108.2 1205.2 1106.9 1205.8 1107.6 1206.4 1107.8 1207.0 1111.1 1207.6 1109.1 1208.2 1109.4 1208.8 1106.7 1209.4 1106.9 1210.0 1109.6 1210.6 1106.2 1211.2 1110.3 1211.8 1107.7 1212.4 1107.8 1213.0 1108.7 1213.6 1108.5 1214.2 1108.7 1214.8 1108.4 1215.4 1109.8 1216.0 1107.7 1216.6 1107.4 1217.2 1108.5 1217.8 1107.4 1218.4 1108.7 1219.0 1108.9 1219.6 1110.4 1220.2 1107.3 1220.8 1108.2 1221.4 1110.2 1222.0 1108.0 1222.6 1110.7 1223.2 1110.0 1223.8 1107.4 1224.4 1108.6 1225.0 1110.7 1225.6 1109.5 1226.2 1110.5 1226.8 1112.8 1227.4 1110.9 1228.0 1110.4 1228.6 1112.3 1229.2 1109.9 1229.8 1108.4 1230.4 1108.9 1231.0 1110.3 1231.6 1112.4 1232.2 1110.1 1232.8 1108.5 1233.4 1112.5 1234.0 1109.0 1234.6 1108.3 1235.2 1109.8 1235.8 1108.7 1236.4 1108.0 1237.0 1110.8 1237.6 1110.8 1238.2 1112.8 1238.8 1108.4 1239.4 1112.5 1240.0 1111.7 1240.6 1108.7 1241.2 1109.7 1241.8 1110.5 1242.4 1108.8 1243.0 1107.9 1243.6 1111.3 1244.2 1107.7 1244.8 1108.9 1245.4 1108.6 1246.0 1111.5 1246.6 1109.4 1247.2 1108.9 1247.8 1112.6 1248.4 1108.9 1249.0 1111.1 1249.6 1108.6 1250.2 1111.4 1250.8 1111.4 1251.4 1112.0 1252.0 1110.0 1252.6 1109.0 1253.2 1111.3 1253.8 1113.3 1254.4 1109.9 1255.0 1109.1 1255.6 1109.6 1256.2 1114.0 1256.8 1109.4 1257.4 1109.5 1258.0 1109.6 1258.6 1113.7 1259.2 1110.5 1259.8 1112.3 1260.4 1112.4 1261.0 1110.8 1261.6 1112.6 1262.2 1111.0 1262.8 1111.4 1263.4 1110.1 1264.0 1109.1 1264.6 1111.3 1265.2 1109.4 1265.8 1109.2 1266.4 1112.5 1267.0 1109.1 1267.6 1108.0 1268.2 1110.3 1268.8 1109.6 1269.4 1107.6 1270.0 1108.6 1270.6 1110.0 1271.2 1108.5 1271.8 1112.9 1272.4 1111.6 1273.0 1109.7 1273.6 1112.4 1274.2 1107.8 1274.8 1108.3 1275.4 1112.0 1276.0 1109.1 1276.6 1107.3 1277.2 1108.9 1277.8 1109.7 1278.4 1108.8 1279.0 1106.4 1279.6 1106.6 1280.2 1108.1 1280.8 1107.1 1281.4 1107.4 1282.0 1110.0 1282.6 1108.8 1283.2 1107.3 1283.8 1111.2 1284.4 1108.0 1285.0 1111.0 1285.6 1109.1 1286.2 1109.2 1286.8 1108.1 1287.4 1109.5 1288.0 1107.2 1288.6 1107.0 1289.2 1110.3 1289.8 1106.1 1290.4 1106.6 1291.0 1108.5 1291.6 1106.1 1292.2 1106.3 1292.8 1109.9 1293.4 1106.1 1294.0 1106.6 1294.6 1110.5 1295.2 1107.0 1295.8 1107.2 1296.4 1110.3 1297.0 1106.8 1297.6 1110.8 1298.2 1109.3 1298.8 1109.3 1299.4 1105.8 1300.0 1105.8 1300.6 1108.8 1301.2 1109.4 1301.8 1106.2 1302.4 1106.2 1303.0 1106.4 1303.6 1106.1 1304.2 1107.2 1304.8 1107.7 1305.4 1108.5 1306.0 1106.1 1306.6 1106.7 1307.2 1106.6 1307.8 1107.3 1308.4 1107.0 1309.0 1111.3 1309.6 1107.7 1310.2 1106.7 1310.8 1109.3 1311.4 1111.5 1312.0 1110.4 1312.6 1109.6 1313.2 1108.3 1313.8 1108.6 1314.4 1108.3 1315.0 1111.2 1315.6 1111.2 1316.2 1109.2 1316.8 1111.5 1317.4 1110.0 1318.0 1110.1 1318.6 1107.8 1319.2 1107.7 1319.8 1107.6 1320.4 1111.6 1321.0 1110.8 1321.6 1111.6 1322.2 1111.2 1322.8 1111.2 1323.4 1109.1 1324.0 1111.2 1324.6 1108.2 1325.2 1110.7 1325.8 1108.0 1326.4 1113.0 1327.0 1112.4 1327.6 1108.6 1328.2 1111.9 1328.8 1112.6 1329.4 1109.0 1330.0 1111.5 1330.6 1111.0 1331.2 1112.4 1331.8 1114.3 1332.4 1113.2 1333.0 1110.6 1333.6 1112.3 1334.2 1112.4 1334.8 1110.3 1335.4 1110.6 1336.0 1111.5 1336.6 1110.7 1337.2 1111.0 1337.8 1113.2 1338.4 1115.3 1339.0 1112.0 1339.6 1113.1 1340.2 1114.0 1340.8 1113.6 1341.4 1113.7 1342.0 1111.2 1342.6 1115.7 1343.2 1111.9 1343.8 1112.1 1344.4 1113.7 1345.0 1114.2 1345.6 1115.2 1346.2 1112.5 1346.8 1116.3 1347.4 1114.0 1348.0 1115.5 1348.6 1113.3 1349.2 1111.8 1349.8 1111.7 1350.4 1114.3 1351.0 1113.0 1351.6 1112.9 1352.2 1112.3 1352.8 1111.6 1353.4 1113.0 1354.0 1112.0 1354.6 1115.8 1355.2 1111.9 1355.8 1116.6 1356.4 1115.8 1357.0 1112.9 1357.6 1115.2 1358.2 1114.2 1358.8 1113.8 1359.4 1116.2 1360.0 1116.6 1360.6 1113.4 1361.2 1117.6 1361.8 1113.2 1362.4 1113.2 1363.0 1115.0 1363.6 1114.2 1364.2 1114.8 1364.8 1115.2 1365.4 1115.3 1366.0 1118.1 1366.6 1118.2 1367.2 1114.5 1367.8 1114.1 1368.4 1115.9 1369.0 1113.6 1369.6 1114.4 1370.2 1116.2 1370.8 1112.9 1371.4 1116.3 1372.0 1115.9 1372.6 1113.6 1373.2 1112.7 1373.8 1114.0 1374.4 1112.8 1375.0 1116.0 1375.6 1114.8 1376.2 1113.7 1376.8 1117.0 1377.4 1116.1 1378.0 1114.1 1378.6 1115.4 1379.2 1115.7 1379.8 1118.7 1380.4 1114.7 1381.0 1115.3 1381.6 1118.7 1382.2 1115.1 1382.8 1117.5 1383.4 1113.6 1384.0 1114.5 1384.6 1113.4 1385.2 1117.1 1385.8 1114.7 1386.4 1113.0 1387.0 1112.6 1387.6 1113.8 1388.2 1112.6 1388.8 1114.2 1389.4 1115.6 1390.0 1113.1 1390.6 1112.5 1391.2 1113.1 1391.8 1112.2 1392.4 1115.9 1393.0 1112.1 1393.6 1115.3 1394.2 1113.0 1394.8 1115.3 1395.4 1115.6 1396.0 1112.3 1396.6 1115.5 1397.2 1116.8 1397.8 1114.1 1398.4 1114.5 1399.0 1112.6 1399.6 1111.9 1400.2 1114.7 1400.8 1115.0 1401.4 1111.5 1402.0 1111.3 1402.6 1112.3 1403.2 1114.0 1403.8 1112.8 1404.4 1116.8 1405.0 1115.8 1405.6 1116.8 1406.2 1114.7 1406.8 1115.8 1407.4 1117.2 1408.0 1112.6 1408.6 1114.9 1409.2 1113.3 1409.8 1116.7 1410.4 1113.8 1411.0 1116.6 1411.6 1114.3 1412.2 1116.1 1412.8 1116.2 1413.4 1117.8 1414.0 1117.5 1414.6 1114.8 1415.2 1116.2 1415.8 1113.7 1416.4 1113.6 1417.0 1116.5 1417.6 1117.9 1418.2 1116.9 1418.8 1115.6 1419.4 1116.3 1420.0 1116.9 1420.6 1115.8 1421.2 1114.5 1421.8 1117.1 1422.4 1114.1 1423.0 1117.1 1423.6 1116.2 1424.2 1116.0 1424.8 1116.2 1425.4 1117.2 1426.0 1117.3 1426.6 1114.4 1427.2 1114.0 1427.8 1116.3 1428.4 1118.2 1429.0 1116.2 1429.6 1113.9 1430.2 1114.0 1430.8 1115.5 1431.4 1117.3 1432.0 1117.9 1432.6 1114.8 1433.2 1115.4 1433.8 1115.3 1434.4 1113.6 1435.0 1113.4 1435.6 1115.2 1436.2 1115.0 1436.8 1117.1 1437.4 1113.6 1438.0 1117.3 1438.6 1114.4 1439.2 1116.0 1439.8 1117.3 1440.4 1114.9 1441.0 1119.3 1441.6 1119.5 1442.2 1119.5 1442.8 1114.8 1443.4 1117.2 1444.0 1117.4 1444.6 1118.8 1445.2 1115.4 1445.8 1115.3 1446.4 1118.9 1447.0 1116.3 1447.6 1116.1 1448.2 1116.5 1448.8 1119.2 1449.4 1118.7 1450.0 1120.1 1450.6 1120.5 1451.2 1117.0 1451.8 1121.3 1452.4 1120.9 1453.0 1121.2 1453.6 1120.1 1454.2 1118.1 1454.8 1117.8 1455.4 1121.6 1456.0 1119.1 1456.6 1119.8 1457.2 1121.2 1457.8 1121.3 1458.4 1121.4 1459.0 1121.0 1459.6 1120.4 1460.2 1121.8 1460.8 1119.8 1461.4 1119.4 1462.0 1123.0 1462.6 1122.8 1463.2 1122.2 1463.8 1119.7 1464.4 1119.4 1465.0 1123.5 1465.6 1123.6 1466.2 1120.1 1466.8 1121.9 1467.4 1119.8 1468.0 1121.2 1468.6 1123.1 1469.2 1121.7 1469.8 1124.3 1470.4 1125.1 1471.0 1121.2 1471.6 1123.5 1472.2 1121.8 1472.8 1120.9 1473.4 1121.4 1474.0 1122.0 1474.6 1124.4 1475.2 1123.7 1475.8 1120.8 1476.4 1121.1 1477.0 1125.8 1477.6 1123.4 1478.2 1123.9 1478.8 1123.0 1479.4 1125.8 1480.0 1124.5 1480.6 1124.9 1481.2 1123.4 1481.8 1125.9 1482.4 1123.1 1483.0 1122.8 1483.6 1124.7 1484.2 1126.1 1484.8 1123.6 1485.4 1123.9 1486.0 1123.7 1486.6 1125.9 1487.2 1127.0 1487.8 1124.4 1488.4 1126.1 1489.0 1126.4 1489.6 1125.0 1490.2 1126.8 1490.8 1125.8 1491.4 1125.6 1492.0 1129.5 1492.6 1125.2 1493.2 1125.8 1493.8 1126.9 1494.4 1125.9 1495.0 1124.8 1495.6 1128.4 1496.2 1125.5 1496.8 1126.3 1497.4 1129.1 1498.0 1129.5 1498.6 1129.3 1499.2 1126.6 1499.8 1128.5 1500.4 1129.3 1501.0 1126.2 1501.6 1130.3 1502.2 1126.0 1502.8 1128.2 1503.4 1126.0 1504.0 1125.7 1504.6 1125.3 1505.2 1129.2 1505.8 1124.9 1506.4 1128.9 1507.0 1125.0 1507.6 1125.6 1508.2 1125.2 1508.8 1129.7 1509.4 1125.1 1510.0 1129.2 1510.6 1126.2 1511.2 1130.2 1511.8 1128.9 1512.4 1126.5 1513.0 1127.8 1513.6 1126.5 1514.2 1127.7 1514.8 1126.6 1515.4 1129.6 1516.0 1129.2 1516.6 1127.6 1517.2 1126.8 1517.8 1131.6 1518.4 1126.9 1519.0 1127.7 1519.6 1126.8 1520.2 1128.1 1520.8 1128.3 1521.4 1129.2 1522.0 1128.1 1522.6 1127.7 1523.2 1130.9 1523.8 1127.8 1524.4 1128.0 1525.0 1128.8 1525.6 1127.6 1526.2 1130.3 1526.8 1126.8 1527.4 1127.6 1528.0 1127.9 1528.6 1127.0 1529.2 1130.6 1529.8 1127.2 1530.4 1127.6 1531.0 1128.0 1531.6 1130.8 1532.2 1127.0 1532.8 1131.1 1533.4 1132.2 1534.0 1127.5 1534.6 1127.2 1535.2 1131.2 1535.8 1128.2 1536.4 1127.9 1537.0 1127.6 1537.6 1130.6 1538.2 1133.5 1538.8 1133.1 1539.4 1130.8 1540.0 1129.8 1540.6 1134.1 1541.2 1131.4 1541.8 1134.0 1542.4 1131.9 1543.0 1132.2 1543.6 1132.5 1544.2 1129.3 1544.8 1130.1 1545.4 1129.5 1546.0 1135.2 1546.6 1135.6 1547.2 1132.0 1547.8 1129.0 1548.4 1128.8 1549.0 1130.5 1549.6 1130.3 1550.2 1129.4 1550.8 1129.1 1551.4 1132.5 1552.0 1133.8 1552.6 1129.2 1553.2 1130.3 1553.8 1130.4 1554.4 1132.2 1555.0 1132.8 1555.6 1131.7 1556.2 1135.6 1556.8 1132.0 1557.4 1131.7 1558.0 1135.3 1558.6 1136.2 1559.2 1136.9 1559.8 1132.0 1560.4 1132.3 1561.0 1134.0 1561.6 1138.5 1562.2 1135.3 1562.8 1135.3 1563.4 1133.3 1564.0 1138.9 1564.6 1132.8 1565.2 1135.4 1565.8 1136.6 1566.4 1138.1 1567.0 1138.3 1567.6 1134.9 1568.2 1134.3 1568.8 1140.0 1569.4 1135.9 1570.0 1133.9 1570.6 1132.9 1571.2 1137.4 1571.8 1137.6 1572.4 1135.0 1573.0 1133.7 1573.6 1136.0 1574.2 1139.4 1574.8 1135.9 1575.4 1138.1 1576.0 1139.2 1576.6 1138.1 1577.2 1135.9 1577.8 1134.1 1578.4 1137.8 1579.0 1139.3 1579.6 1140.8 1580.2 1134.7 1580.8 1134.7 1581.4 1138.2 1582.0 1140.0 1582.6 1134.6 1583.2 1137.8 1583.8 1135.3 1584.4 1141.7 1585.0 1136.1 1585.6 1134.8 1586.2 1139.8 1586.8 1136.1 1587.4 1137.0 1588.0 1135.4 1588.6 1136.4 1589.2 1135.4 1589.8 1136.0 1590.4 1138.4 1591.0 1136.5 1591.6 1139.6 1592.2 1142.1 1592.8 1139.3 1593.4 1136.3 1594.0 1143.6 1594.6 1137.5 1595.2 1138.7 1595.8 1140.3 1596.4 1141.3 1597.0 1139.3 1597.6 1140.1 1598.2 1141.6 1598.8 1140.1 1599.4 1138.8 1600.0 1139.5 1600.6 1139.3 1601.2 1138.8 1601.8 1141.4 1602.4 1141.0 1603.0 1140.5 1603.6 1143.2 1604.2 1144.7 1604.8 1143.1 1605.4 1140.7 1606.0 1146.9 1606.6 1139.8 1607.2 1145.4 1607.8 1141.6 1608.4 1141.4 1609.0 1145.9 1609.6 1143.7 1610.2 1147.8 1610.8 1146.6 1611.4 1140.0 1612.0 1142.6 1612.6 1145.6 1613.2 1140.3 1613.8 1143.3 1614.4 1149.0 1615.0 1141.0 1615.6 1140.4 1616.2 1141.4 1616.8 1141.9 1617.4 1141.8 1618.0 1143.2 1618.6 1148.1 1619.2 1144.7 1619.8 1145.8 1620.4 1142.4 1621.0 1142.4 1621.6 1151.0 1622.2 1144.0 1622.8 1151.0 1623.4 1143.8 1624.0 1146.7 1624.6 1146.9 1625.2 1142.2 1625.8 1142.2 1626.4 1144.6 1627.0 1142.6 1627.6 1143.8 1628.2 1143.5 1628.8 1144.6 1629.4 1146.2 1630.0 1145.2 1630.6 1145.5 1631.2 1146.8 1631.8 1149.0 1632.4 1143.5 1633.0 1153.6 1633.6 1145.8 1634.2 1152.3 1634.8 1143.2 1635.4 1143.2 1636.0 1143.3 1636.6 1152.1 1637.2 1145.4 1637.8 1151.1 1638.4 1149.0 1639.0 1143.6 1639.6 1145.6 1640.2 1145.6 1640.8 1146.9 1641.4 1150.7 1642.0 1144.2 1642.6 1153.2 1643.2 1146.8 1643.8 1145.7 1644.4 1149.6 1645.0 1145.2 1645.6 1150.3 1646.2 1147.1 1646.8 1148.1 1647.4 1146.0 1648.0 1146.2 1648.6 1153.9 1649.2 1149.8 1649.8 1148.0 1650.4 1152.5 1651.0 1154.7 1651.6 1146.1 1652.2 1156.3 1652.8 1145.6 1653.4 1150.3 1654.0 1146.7 1654.6 1146.6 1655.2 1148.8 1655.8 1150.2 1656.4 1148.5 1657.0 1152.4 1657.6 1156.7 1658.2 1147.9 1658.8 1148.8 1659.4 1153.0 1660.0 1151.2 1660.6 1150.7 1661.2 1152.8 1661.8 1155.3 1662.4 1158.4 1663.0 1158.6 1663.6 1156.0 1664.2 1149.6 1664.8 1156.1 1665.4 1153.2 1666.0 1147.8 1666.6 1157.5 1667.2 1149.1 1667.8 1154.4 1668.4 1155.3 1669.0 1159.2 1669.6 1155.8 1670.2 1161.0 1670.8 1150.6 1671.4 1150.4 1672.0 1150.9 1672.6 1154.3 1673.2 1152.5 1673.8 1150.2 1674.4 1150.9 1675.0 1154.7 1675.6 1152.9 1676.2 1157.6 1676.8 1153.9 1677.4 1159.7 1678.0 1157.9 1678.6 1154.5 1679.2 1153.2 1679.8 1152.3 1680.4 1153.0 1681.0 1153.6 1681.6 1153.7 1682.2 1152.4 1682.8 1154.9 1683.4 1152.1 1684.0 1160.5 1684.6 1156.0 1685.2 1152.3 1685.8 1153.7 1686.4 1153.0 1687.0 1152.2 1687.6 1154.6 1688.2 1151.7 1688.8 1151.4 1689.4 1157.0 1690.0 1153.8 1690.6 1157.1 1691.2 1155.0 1691.8 1155.9 1692.4 1154.5 1693.0 1155.9 1693.6 1156.7 1694.2 1155.4 1694.8 1161.5 1695.4 1154.5 1696.0 1154.2 1696.6 1155.0 1697.2 1160.5 1697.8 1161.5 1698.4 1157.6 1699.0 1155.6 1699.6 1159.1 1700.2 1162.1 1700.8 1155.4 1701.4 1160.0 1702.0 1160.6 1702.6 1156.6 1703.2 1154.7 1703.8 1158.8 1704.4 1154.7 1705.0 1155.8 1705.6 1157.8 1706.2 1164.4 1706.8 1154.4 1707.4 1154.3 1708.0 1158.3 1708.6 1164.8 1709.2 1154.7 1709.8 1160.2 1710.4 1154.9 1711.0 1159.0 1711.6 1155.1 1712.2 1160.5 1712.8 1156.8 1713.4 1160.4 1714.0 1155.9 1714.6 1154.9 1715.2 1155.5 1715.8 1156.1 1716.4 1155.3 1717.0 1155.5 1717.6 1158.9 1718.2 1157.6 1718.8 1163.4 1719.4 1158.7 1720.0 1159.6 1720.6 1162.4 1721.2 1165.0 1721.8 1160.7 1722.4 1155.9 1723.0 1158.9 1723.6 1155.6 1724.2 1160.7 1724.8 1155.6 1725.4 1160.0 1726.0 1156.6 1726.6 1166.0 1727.2 1157.1 1727.8 1163.2 1728.4 1164.0 1729.0 1158.6 1729.6 1162.5 1730.2 1159.3 1730.8 1158.8 1731.4 1159.0 1732.0 1157.9 1732.6 1164.6 1733.2 1158.4 1733.8 1159.2 1734.4 1158.7 1735.0 1167.5 1735.6 1163.1 1736.2 1162.4 1736.8 1164.2 1737.4 1168.2 1738.0 1165.2 1738.6 1163.6 1739.2 1161.2 1739.8 1163.5 1740.4 1172.0 1741.0 1164.0 1741.6 1162.6 1742.2 1169.5 1742.8 1158.7 1743.4 1158.7 1744.0 1167.5 1744.6 1170.8 1745.2 1159.1 1745.8 1159.2 1746.4 1159.4 1747.0 1164.9 1747.6 1160.2 1748.2 1165.0 1748.8 1166.8 1749.4 1160.2 1750.0 1171.1 1750.6 1161.7 1751.2 1165.5 1751.8 1162.8 1752.4 1162.7 1753.0 1163.3 1753.6 1160.3 1754.2 1163.6 1754.8 1161.8 1755.4 1162.7 1756.0 1160.9 1756.6 1162.3 1757.2 1167.6 1757.8 1173.4 1758.4 1160.5 1759.0 1170.6 1759.6 1165.7 1760.2 1159.9 1760.8 1159.8 1761.4 1171.6 1762.0 1161.4 1762.6 1160.7 1763.2 1167.5 1763.8 1168.6 1764.4 1172.7 1765.0 1165.4 1765.6 1163.1 1766.2 1163.4 1766.8 1162.7 1767.4 1168.8 1768.0 1175.6 1768.6 1162.9 1769.2 1166.0 1769.8 1165.9 1770.4 1163.8 1771.0 1170.0 1771.6 1178.4 1772.2 1165.6 1772.8 1172.6 1773.4 1176.6 1774.0 1165.6 1774.6 1177.2 1775.2 1173.5 1775.8 1171.6 1776.4 1165.4 1777.0 1166.4 1777.6 1165.2 1778.2 1178.0 1778.8 1176.1 1779.4 1165.5 1780.0 1170.5 1780.6 1166.0 1781.2 1174.7 1781.8 1170.6 1782.4 1178.7 1783.0 1173.5 1783.6 1164.5 1784.2 1167.3 1784.8 1170.8 1785.4 1178.4 1786.0 1167.6 1786.6 1165.5 1787.2 1166.4 1787.8 1166.0 1788.4 1165.2 1789.0 1167.3 1789.6 1166.2 1790.2 1169.9 1790.8 1178.4 1791.4 1180.2 1792.0 1165.7 1792.6 1171.8 1793.2 1174.3 1793.8 1166.8 1794.4 1172.3 1795.0 1168.0 1795.6 1170.3 1796.2 1169.9 1796.8 1179.7 1797.4 1169.1 1798.0 1173.7 1798.6 1174.5 1799.2 1170.0 1799.8 1182.4 1800.4 1169.4 1801.0 1169.0 1801.6 1175.6 1802.2 1171.2 1802.8 1176.2 1803.4 1166.8 1804.0 1166.8 1804.6 1176.7 1805.2 1169.7 1805.8 1179.9 1806.4 1167.6 1807.0 1167.8 1807.6 1180.5 1808.2 1169.9 1808.8 1167.5 1809.4 1168.7 1810.0 1179.3 1810.6 1169.7 1811.2 1174.8 1811.8 1181.9 1812.4 1176.7 1813.0 1180.5 1813.6 1187.3 1814.2 1172.1 1814.8 1184.8 1815.4 1176.6 1816.0 1170.9 1816.6 1170.1 1817.2 1172.1 1817.8 1169.8 1818.4 1181.3 1819.0 1176.1 1819.6 1169.2 1820.2 1184.5 1820.8 1177.1 1821.4 1173.8 1822.0 1169.6 1822.6 1174.0 1823.2 1185.1 1823.8 1175.8 1824.4 1173.0 1825.0 1176.0 1825.6 1174.7 1826.2 1176.6 1826.8 1169.5 1827.4 1169.6 1828.0 1169.6 1828.6 1185.0 1829.2 1171.1 1829.8 1173.6 1830.4 1179.9 1831.0 1178.1 1831.6 1188.6 1832.2 1172.8 1832.8 1171.3 1833.4 1171.1 1834.0 1175.8 1834.6 1171.5 1835.2 1174.0 1835.8 1179.1 1836.4 1171.3 1837.0 1178.6 1837.6 1168.8 1838.2 1176.5 1838.8 1186.9 1839.4 1188.3 1840.0 1178.3 1840.6 1190.8 1841.2 1173.0 1841.8 1174.4 1842.4 1177.6 1843.0 1179.5 1843.6 1188.4 1844.2 1179.4 1844.8 1174.6 1845.4 1185.9 1846.0 1176.2 1846.6 1191.2 1847.2 1175.5 1847.8 1176.2 1848.4 1173.8 1849.0 1175.3 1849.6 1181.0 1850.2 1174.1 1850.8 1172.0 1851.4 1180.7 1852.0 1185.3 1852.6 1174.0 1853.2 1179.4 1853.8 1175.6 1854.4 1176.1 1855.0 1180.5 1855.6 1179.2 1856.2 1193.4 1856.8 1175.9 1857.4 1185.4 1858.0 1187.3 1858.6 1179.0 1859.2 1180.4 1859.8 1175.7 1860.4 1176.0 1861.0 1174.5 1861.6 1193.1 1862.2 1175.3 1862.8 1176.4 1863.4 1188.4 1864.0 1181.6 1864.6 1182.6 1865.2 1178.0 1865.8 1175.9 1866.4 1189.6 1867.0 1175.2 1867.6 1177.5 1868.2 1188.7 1868.8 1178.4 1869.4 1196.4 1870.0 1177.7 1870.6 1184.3 1871.2 1184.7 1871.8 1183.8 1872.4 1191.4 1873.0 1177.1 1873.6 1185.1 1874.2 1192.2 1874.8 1177.4 1875.4 1185.4 1876.0 1182.9" fill="none" stroke="#ff0000" stroke-width="10" stroke-linejoin="round" stroke-linecap="butt" shape-rendering="crispEdges"/></g>
<g fill="#000" stroke="none">
<rect x="1109" y="197.8" width="535" height="1.4"/>
<rect x="1390" y="230" width="4" height="856"/>
<path d="M1392 197 L1402.1 237.8 L1381.9 237.8 Z"/>
<path d="M1392 1118 L1402.1 1078 L1381.9 1078 Z"/>
</g>
<g fill="#000" font-size="55">
<text transform="translate(0 60.4) scale(1 1.045)" x="211.5" y="0" text-anchor="end">20</text>
<text transform="translate(0 299.4) scale(1 1.045)" x="211.5" y="0" text-anchor="end">0</text>
<text transform="translate(0 538.4) scale(1 1.045)" text-anchor="end"><tspan x="141.2" y="-1.15" font-size="58" textLength="39.4" lengthAdjust="spacingAndGlyphs">−</tspan><tspan x="211.5" y="0">20</tspan></text>
<text transform="translate(0 777.3) scale(1 1.045)" text-anchor="end"><tspan x="141.2" y="-1.15" font-size="58" textLength="39.4" lengthAdjust="spacingAndGlyphs">−</tspan><tspan x="211.5" y="0">40</tspan></text>
<text transform="translate(0 1016.3) scale(1 1.045)" text-anchor="end"><tspan x="141.2" y="-1.15" font-size="58" textLength="39.4" lengthAdjust="spacingAndGlyphs">−</tspan><tspan x="211.5" y="0">60</tspan></text>
<text transform="translate(0 1255.2) scale(1 1.045)" text-anchor="end"><tspan x="141.2" y="-1.15" font-size="58" textLength="39.4" lengthAdjust="spacingAndGlyphs">−</tspan><tspan x="211.5" y="0">80</tspan></text>
<text transform="translate(240.3 1429.4) scale(1 1.045)" text-anchor="middle">1020</text>
<text transform="translate(648.1 1429.4) scale(1 1.045)" text-anchor="middle">1040</text>
<text transform="translate(1055.9 1429.4) scale(1 1.045)" text-anchor="middle">1060</text>
<text transform="translate(1463.7 1429.4) scale(1 1.045)" text-anchor="middle">1080</text>
<text transform="translate(1871.5 1429.4) scale(1 1.045)" text-anchor="middle">1100</text>
</g>
<text x="1057.3" y="1527.6" font-size="61.9" text-anchor="middle" fill="#000">Wavelength (nm)</text>
<text transform="translate(72.0 699.8) rotate(-90)" font-size="61.7" text-anchor="middle" fill="#000">Power (dBm)</text>
<text x="1581" y="674.4" font-size="62" text-anchor="middle" fill="#ff0000">SNR~76 dB</text>
<g filter="url(#soft)">
<rect x="397.8" y="113.2" width="2.8" height="535.6" fill="#dedede"/>
<rect x="1083.2" y="116.2" width="2.8" height="529.6" fill="#e4e4e4"/>
<rect x="402.0" y="114.7" width="685.6" height="532.6" fill="none" stroke="#1c1c1c" stroke-width="2.9"/>
<g stroke="#303030" stroke-width="2.3" fill="none">
<path d="M499.1 647.3v-5.5M499.1 114.7v5.5"/>
<path d="M597.0 647.3v-10M597.0 114.7v10"/>
<path d="M694.9 647.3v-5.5M694.9 114.7v5.5"/>
<path d="M792.9 647.3v-10M792.9 114.7v10"/>
<path d="M890.8 647.3v-5.5M890.8 114.7v5.5"/>
<path d="M988.7 647.3v-10M988.7 114.7v10"/>
<path d="M402.0 167.9h5.5M1087.6 167.9h-5.5"/>
<path d="M402.0 221.2h10M1087.6 221.2h-10"/>
<path d="M402.0 274.4h5.5M1087.6 274.4h-5.5"/>
<path d="M402.0 327.7h10M1087.6 327.7h-10"/>
<path d="M402.0 380.9h5.5M1087.6 380.9h-5.5"/>
<path d="M402.0 434.2h10M1087.6 434.2h-10"/>
<path d="M402.0 487.4h5.5M1087.6 487.4h-5.5"/>
<path d="M402.0 540.7h10M1087.6 540.7h-10"/>
<path d="M402.0 594.0h5.5M1087.6 594.0h-5.5"/>
</g>
<path d="M401.4 518.8 415.0 520.0 432.0 519.9 447.0 517.0 463.6 512.0 475.0 511.5 490.7 506.8 500.0 507.0 515.6 514.2 530.0 510.0 551.8 503.0 562.0 496.0 572.0 486.0 585.0 479.0 599.3 473.5 610.6 474.6 628.7 465.6 637.8 464.5 642.2 457.7 655.6 451.0 662.3 444.3 671.2 433.2 677.4 422.1 683.5 399.8 689.5 377.5 693.5 355.2 698.0 332.9 701.3 310.6 705.1 290.5 710.9 266.0 714.7 243.7 715.8 234.8 719.1 221.4 723.6 199.2 728.0 176.9 731.8 154.6 735.8 146.8 740.3 154.6 746.5 176.9 750.3 199.2 754.8 221.4 762.6 243.7 767.1 254.9 771.1 266.0 774.9 288.3 779.3 310.6 783.8 332.9 788.2 355.2 792.7 377.5 798.3 399.8 802.7 410.9 809.4 422.1 818.3 433.2 822.8 444.3 829.5 453.3 838.4 459.9 845.5 471.3 860.0 478.0 874.9 484.8 893.0 496.1 911.1 493.9 929.2 507.5 945.0 513.5 960.9 518.8 976.0 522.0 992.5 524.4 1022.0 524.4 1055.9 521.0 1086.4 518.1" fill="none" stroke="#ff3030" stroke-width="2.6" stroke-linejoin="miter" stroke-miterlimit="6"/>
<path d="M401.4 613.8 416.0 611.5 422.9 616.0 436.0 612.0 447.8 609.3 456.8 598.0 465.0 595.0 474.9 593.4 486.2 585.5 495.3 586.6 504.3 593.4 520.2 593.4 529.2 586.6 554.0 583.2 563.0 576.0 572.0 566.3 588.0 560.6 599.3 554.3 610.6 553.4 626.5 541.4 636.7 544.3 644.6 535.7 658.1 528.9 667.0 516.0 676.2 497.3 682.0 477.0 686.8 459.9 689.5 444.3 693.5 422.1 698.4 399.8 703.5 377.5 708.0 355.2 710.2 350.7 713.6 332.9 716.9 310.6 722.5 288.3 725.8 266.0 729.2 243.7 731.4 232.6 735.8 217.8 741.4 232.6 744.3 243.7 748.1 266.0 751.9 288.3 754.8 306.1 757.0 310.6 765.9 332.9 770.4 355.2 774.9 377.5 780.0 399.8 784.9 422.1 788.9 444.3 792.7 459.9 796.0 472.0 800.3 484.8 811.6 497.3 822.9 519.9 836.4 533.5 845.5 548.2 856.8 555.0 870.4 560.6 886.2 575.3 895.3 579.8 904.3 570.8 911.1 570.8 920.2 582.1 931.5 587.8 940.5 595.0 960.9 600.9 973.3 597.9 983.5 603.6 1003.9 603.1 1011.8 601.3 1022.0 604.7 1037.8 603.6 1045.7 600.9 1053.6 604.7 1060.4 602.5 1069.5 607.0 1086.4 606.3" fill="none" stroke="#1a1a1a" stroke-width="3.1" stroke-linejoin="miter" stroke-miterlimit="6"/>
<path d="M736.2 132V670.6" fill="none" stroke="#ff3838" stroke-width="2.6" stroke-dasharray="15.6 12"/>
<rect x="834.2" y="158.5" width="65.6" height="5.4" fill="#5e5e5e"/>
<rect x="834.2" y="198.2" width="65.6" height="2.8" fill="#ff2a2a"/>
<g fill="#1e1e1e" font-size="30">
<text x="910.5" y="171.4">Seed</text>
<text x="910" y="208.8">Amplifier</text>
<text transform="translate(0 134.6) scale(0.955 1.06)" x="407.3" y="0" text-anchor="end">20</text>
<text transform="translate(0 235.3) scale(0.955 1.06)" x="407.3" y="0" text-anchor="end">0</text>
<text transform="translate(0 341.2) scale(0.955 1.06)" text-anchor="end"><tspan x="361.5" y="0.2" fill="#8c8c8c" font-weight="bold" font-size="29">−</tspan><tspan x="401.9" y="0">20</tspan></text>
<text transform="translate(0 446.6) scale(0.955 1.06)" text-anchor="end"><tspan x="361.5" y="0.2" fill="#8c8c8c" font-weight="bold" font-size="29">−</tspan><tspan x="401.9" y="0">40</tspan></text>
<text transform="translate(0 557.9) scale(0.955 1.06)" text-anchor="end"><tspan x="361.5" y="0.2" fill="#8c8c8c" font-weight="bold" font-size="29">−</tspan><tspan x="401.9" y="0">60</tspan></text>
<text transform="translate(0 657.0) scale(0.955 1.06)" text-anchor="end"><tspan x="361.5" y="0.2" fill="#8c8c8c" font-weight="bold" font-size="29">−</tspan><tspan x="401.9" y="0">80</tspan></text>
<text transform="translate(597.5 682.2) scale(0.955 1.06)" text-anchor="middle">1064.0</text>
<text transform="translate(793.4 682.2) scale(0.955 1.06)" text-anchor="middle">1064.5</text>
<text transform="translate(989.2 682.2) scale(0.955 1.06)" text-anchor="middle">1065.0</text>
<text x="744" y="725.8" text-anchor="middle">Wavelength(nm)</text>
<text transform="translate(303.5 381.5) rotate(-90)" text-anchor="middle" font-size="35">Power (dBm)</text>
<text transform="translate(726.5 612.9) scale(0.955 1.06)" text-anchor="end" fill="#ff3030" font-size="29.8">1064.35</text>
</g>
</g>
</svg>
</body></html>
